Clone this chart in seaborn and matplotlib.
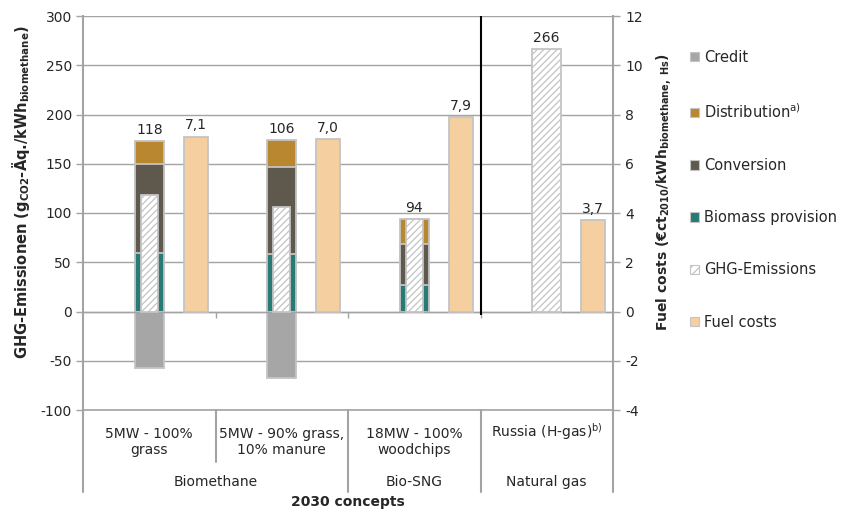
import matplotlib
matplotlib.use("Agg")
import matplotlib.pyplot as plt
import matplotlib.patches as mpatches
import matplotlib.transforms as mtrans
import seaborn as sns
import pandas as pd
import numpy as np

# ---------------- data ----------------
concepts = ["5MW - 100%\ngrass", "5MW - 90% grass,\n10% manure", "18MW - 100%\nwoodchips",
            "Russia (H-gas)$^{\\mathregular{b)}}$"]
groups = ["Biomethane", "Bio-SNG", "Natural gas"]
group_span = [(0, 1), (2, 2), (3, 3)]

# stacked components (only for bio concepts, index 0..2)
biomass_provision = [59, 58, 27]
conversion = [91, 89, 42]
distribution = [23, 27, 25]
credit = [-57, -68, 0]
ghg_emissions = [118, 106, 94, 266]
fuel_costs = [7.1, 7.0, 7.9, 3.7]

# ---------------- style ----------------
sns.set_theme(style="white")
plt.rcParams["font.family"] = ["DejaVu Sans"]
plt.rcParams["hatch.linewidth"] = 0.9
plt.rcParams["axes.unicode_minus"] = False

C_CREDIT = "#A6A6A6"
C_DIST = "#B8872F"
C_CONV = "#5F584C"
C_BIO = "#267B74"
C_FUEL = "#F5CFA0"
C_EDGE = "#C4C4C4"
C_GRID = "#A3A3A3"
C_TEXT = "#262626"

fig = plt.figure(figsize=(8.57, 5.09), dpi=100)
ax = fig.add_axes([83 / 857, 1 - 410 / 509, 530 / 857, 394 / 509])
ax2 = ax.twinx()

idx = np.arange(len(concepts))
bio_idx = idx[:3]

stack_w = 0.22
inner_w = 0.13
fuel_off = 0.35
fuel_w = 0.18

common = dict(native_scale=True, errorbar=None, orient="x", linewidth=1.3, edgecolor=C_EDGE)

# cumulative stacks
top_dist = np.array(biomass_provision) + np.array(conversion) + np.array(distribution)
top_conv = np.array(biomass_provision) + np.array(conversion)
top_bio = np.array(biomass_provision)

df_stack = pd.DataFrame({"x": bio_idx.astype(float), "dist": top_dist, "conv": top_conv, "bio": top_bio,
                         "credit": credit})
sns.barplot(data=df_stack, x="x", y="dist", width=stack_w, color=C_DIST, saturation=1, ax=ax, zorder=2, **common)
sns.barplot(data=df_stack, x="x", y="conv", width=stack_w, color=C_CONV, saturation=1, ax=ax, zorder=2, **common)
sns.barplot(data=df_stack, x="x", y="bio", width=stack_w, color=C_BIO, saturation=1, ax=ax, zorder=2, **common)
df_credit = df_stack[df_stack["credit"] != 0]
sns.barplot(data=df_credit, x="x", y="credit", width=stack_w, color=C_CREDIT, saturation=1, ax=ax, zorder=2,
            **common)

# GHG emissions hatched
df_ghg_in = pd.DataFrame({"x": bio_idx.astype(float), "ghg": ghg_emissions[:3]})
sns.barplot(data=df_ghg_in, x="x", y="ghg", width=inner_w, color="white", saturation=1, hatch="/////",
            ax=ax, zorder=3, **common)
df_ghg_ng = pd.DataFrame({"x": [float(idx[3])], "ghg": [ghg_emissions[3]]})
sns.barplot(data=df_ghg_ng, x="x", y="ghg", width=stack_w, color="white", saturation=1, hatch="/////",
            ax=ax, zorder=3, **common)

# fuel costs on secondary axis
df_fuel = pd.DataFrame({"x": idx + fuel_off, "fuel": fuel_costs})
sns.barplot(data=df_fuel, x="x", y="fuel", width=fuel_w, color=C_FUEL, saturation=1, ax=ax2, zorder=2, **common)

# ---------------- value labels ----------------
for i, g in enumerate(ghg_emissions):
    top = max(g, top_dist[i] if i < 3 else 0)
    ax.annotate(f"{g}", xy=(idx[i], top), xytext=(0, 3), textcoords="offset points",
                ha="center", va="bottom", fontsize=10, color=C_TEXT, zorder=5)
for i, f in enumerate(fuel_costs):
    ax2.annotate(f"{f:.1f}".replace(".", ","), xy=(idx[i] + fuel_off, f), xytext=(0, 3),
                 textcoords="offset points", ha="center", va="bottom", fontsize=10, color=C_TEXT)

# ---------------- axes ----------------
ax.set_xlim(-0.5, 3.5)
ax.set_ylim(-100, 300)
ax2.set_ylim(-4, 12)
ax.set_yticks(np.arange(-100, 301, 50))
ax2.set_yticks(np.arange(-4, 13, 2))
ax.set_xticks([])
ax.set_xticks([0.5, 1.5, 2.5], minor=True)
ax.tick_params(axis="x", which="minor", length=4, width=1, color=C_GRID, bottom=True, direction="out")
ax.tick_params(axis="y", left=True, length=5, width=1, color=C_GRID, labelsize=10, labelcolor=C_TEXT, pad=3)
ax2.tick_params(axis="y", right=True, length=5, width=1, color=C_GRID, labelsize=10, labelcolor=C_TEXT, pad=4)
ax.set_xlabel("")
ax2.set_xlabel("")
ax.yaxis.grid(True, color=C_GRID, lw=1)
ax.set_axisbelow(True)
ax.axhline(-100, color=C_GRID, lw=1.2, clip_on=False, zorder=1)

for s in ["top", "right"]:
    ax.spines[s].set_visible(False)
ax.spines["bottom"].set_position(("data", 0))
ax.spines["bottom"].set_color(C_GRID)
ax.spines["bottom"].set_linewidth(1)
ax.spines["left"].set_color(C_GRID)
ax.spines["left"].set_linewidth(1.5)
for s in ["top", "bottom", "left"]:
    ax2.spines[s].set_visible(False)
ax2.spines["right"].set_color(C_GRID)
ax2.spines["right"].set_linewidth(1.5)

# black separator between bio concepts and natural gas
ax.vlines(2.5, -4, 300, color="black", lw=1.5, zorder=4)

ax.set_ylabel("GHG-Emissionen (g$_{\\mathregular{CO2}}$-Äq./kWh$_{\\mathregular{biomethane}}$)",
              fontsize=10.5, fontweight="bold", color=C_TEXT)
ax.yaxis.set_label_coords(-0.097, 0.553)
ax2.set_ylabel("Fuel costs (€ct$_{\\mathregular{2010}}$/kWh$_{\\mathregular{biomethane,\\ Hs}}$)",
               fontsize=10, fontweight="bold", color=C_TEXT, rotation=90)
ax2.yaxis.set_label_coords(1.077, 0.553)

# ---------------- multi-level category axis ----------------
trans = mtrans.blended_transform_factory(ax.transData, ax.transAxes)
lvl1 = -(462 - 410) / 394
lvl2 = -(492 - 410) / 394
for xb in [-0.5, 1.5, 2.5, 3.5]:
    ax.plot([xb, xb], [0, lvl2], transform=trans, color=C_GRID, lw=1.5, clip_on=False)
ax.plot([0.5, 0.5], [0, lvl1], transform=trans, color=C_GRID, lw=1.5, clip_on=False)

for i, c in enumerate(concepts):
    if "\n" in c:
        ax.text(idx[i], -(442 - 410) / 394, c, transform=trans, ha="center", va="center",
                fontsize=10, color=C_TEXT, linespacing=1.25)
    else:
        ax.text(idx[i], -(432 - 410) / 394, c, transform=trans, ha="center", va="center",
                fontsize=10, color=C_TEXT)
for g, (a, b) in zip(groups, group_span):
    ax.text((a + b) / 2, -(482 - 410) / 394, g, transform=trans, ha="center", va="center",
            fontsize=10, color=C_TEXT)
ax.text(0.5, -(502 - 410) / 394, "2030 concepts", transform=ax.transAxes, ha="center", va="center",
        fontsize=10, fontweight="bold", color=C_TEXT)

# ---------------- legend ----------------
handles = [
    mpatches.Patch(facecolor=C_CREDIT, edgecolor=C_EDGE, lw=0.8),
    mpatches.Patch(facecolor=C_DIST, edgecolor=C_EDGE, lw=0.8),
    mpatches.Patch(facecolor=C_CONV, edgecolor=C_EDGE, lw=0.8),
    mpatches.Patch(facecolor=C_BIO, edgecolor=C_EDGE, lw=0.8),
    mpatches.Patch(facecolor="white", edgecolor=C_EDGE, hatch="////", lw=0.8),
    mpatches.Patch(facecolor=C_FUEL, edgecolor=C_EDGE, lw=0.8),
]
labels = ["Credit", "Distribution$^{\\mathregular{a)}}$", "Conversion", "Biomass provision",
          "GHG-Emissions", "Fuel costs"]
fig.legend(handles, labels, loc="upper left", bbox_to_anchor=(690 / 857, 1 - 50 / 509), frameon=False,
           handlelength=0.6, handleheight=0.6, handletextpad=0.35, labelspacing=2.55, fontsize=10.5,
           borderaxespad=0, borderpad=0, labelcolor=C_TEXT)

fig.savefig("out.png", dpi=100)
